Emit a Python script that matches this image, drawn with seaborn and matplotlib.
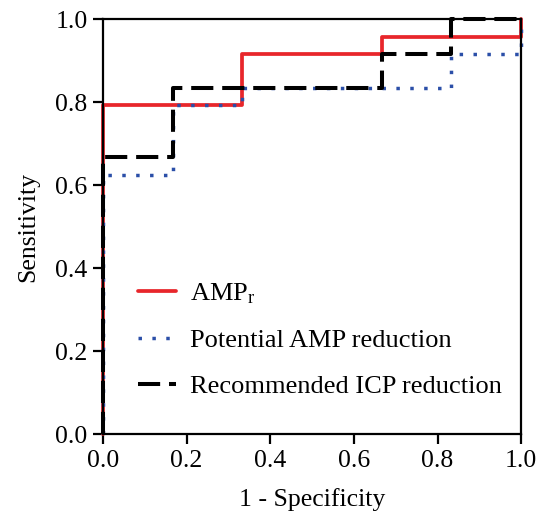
import matplotlib
matplotlib.use("Agg")
import matplotlib.pyplot as plt
import seaborn as sns
import pandas as pd

# ROC points (1 - specificity, sensitivity)
amp_fpr = [0, 0, 0.333, 0.333, 0.667, 0.667, 1, 1]
amp_tpr = [0, 0.792, 0.792, 0.917, 0.917, 0.958, 0.958, 1]

pot_fpr = [0, 0, 0.167, 0.167, 0.333, 0.333, 0.833, 0.833, 1, 1]
pot_tpr = [0, 0.625, 0.625, 0.792, 0.792, 0.833, 0.833, 0.917, 0.917, 1]

icp_fpr = [0, 0, 0.167, 0.167, 0.667, 0.667, 0.833, 0.833, 1]
icp_tpr = [0, 0.667, 0.667, 0.833, 0.833, 0.917, 0.917, 1, 1]

labels = ["AMP$_\\mathrm{r}$", "Potential AMP reduction", "Recommended ICP reduction"]
ticks = [0.0, 0.2, 0.4, 0.6, 0.8, 1.0]

sns.set_style("ticks")
plt.rcParams["font.family"] = ["Liberation Serif", "DejaVu Serif"]
plt.rcParams["mathtext.fontset"] = "custom"
plt.rcParams["mathtext.rm"] = "Liberation Serif"
plt.rcParams["mathtext.it"] = "Liberation Serif:italic"
plt.rcParams["text.color"] = "black"
plt.rcParams["axes.labelcolor"] = "black"
plt.rcParams["xtick.color"] = "black"
plt.rcParams["ytick.color"] = "black"
plt.rcParams["axes.edgecolor"] = "black"

fig = plt.figure(figsize=(5.39, 5.17), dpi=100)
ax = fig.add_axes([0.191, 0.160, 0.776, 0.803])

sns.lineplot(x=amp_fpr, y=amp_tpr, sort=False, estimator=None, ax=ax,
             color="#e8262b", linewidth=2.7, label=labels[0], clip_on=False)
sns.lineplot(x=pot_fpr, y=pot_tpr, sort=False, estimator=None, ax=ax,
             color="#2b4fa8", linewidth=2.5, linestyle=(0, (1, 3)),
             label=labels[1], clip_on=False)
sns.lineplot(x=icp_fpr, y=icp_tpr, sort=False, estimator=None, ax=ax,
             color="black", linewidth=2.9, linestyle=(0, (5.5, 2.2)),
             label=labels[2], clip_on=False)

ax.set_xlim(0, 1)
ax.set_ylim(0, 1)
ax.set_xticks(ticks)
ax.set_yticks(ticks)
ax.set_xticklabels([f"{t:.1f}" for t in ticks])
ax.set_yticklabels([f"{t:.1f}" for t in ticks])
ax.tick_params(direction="out", length=7, width=1.6, labelsize=18.5, pad=4)
for s in ax.spines.values():
    s.set_linewidth(1.6)

ax.set_xlabel("1 - Specificity", fontsize=18.5, labelpad=12)
ax.set_ylabel("Sensitivity", fontsize=18.5, labelpad=12)

ax.legend(loc="upper left", bbox_to_anchor=(0.026, 0.425), frameon=False,
          fontsize=19, handlelength=1.45, labelspacing=0.85, handletextpad=0.55)

fig.savefig("out.png", dpi=100)
